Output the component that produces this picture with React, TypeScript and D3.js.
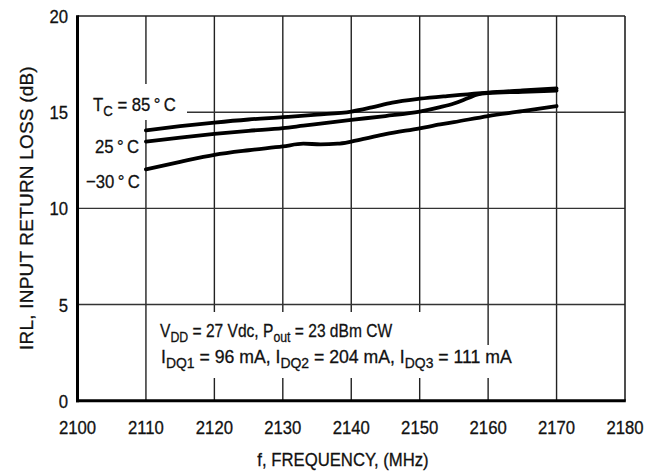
import React from "react";
import * as d3 from "d3";

const xTicks = [2100, 2110, 2120, 2130, 2140, 2150, 2160, 2170, 2180];
const yTicks = [0, 5, 10, 15, 20];

const freq85 = [2110, 2115, 2120, 2125, 2130, 2135, 2140, 2143, 2146, 2150, 2154, 2157, 2160, 2165, 2170];
const irl85 = [14.05, 14.27, 14.46, 14.62, 14.74, 14.87, 15.03, 15.25, 15.5, 15.7, 15.84, 15.93, 16.02, 16.13, 16.24];

const freq25 = [2110, 2115, 2120, 2125, 2130, 2133, 2140, 2145, 2150, 2153, 2155, 2157, 2158.5, 2160, 2165, 2170];
const irl25 = [13.47, 13.68, 13.87, 14.03, 14.17, 14.3, 14.6, 14.8, 15.03, 15.26, 15.45, 15.72, 15.92, 15.99, 16.06, 16.12];

const freqM30 = [2110, 2115, 2120, 2125, 2130, 2133, 2135.5, 2138, 2140, 2142, 2145, 2150, 2153, 2155, 2160, 2165, 2170];
const irlM30 = [12.03, 12.42, 12.78, 13.02, 13.22, 13.36, 13.33, 13.36, 13.47, 13.62, 13.86, 14.16, 14.36, 14.48, 14.8, 15.05, 15.32];

const series = [
  { f: freq85, v: irl85 },
  { f: freq25, v: irl25 },
  { f: freqM30, v: irlM30 },
];

const FONT = "'Liberation Sans', Arial, Helvetica, sans-serif";

function Txt(props: {
  x: number;
  y: number;
  anchor?: string;
  sx?: number;
  size?: number;
  rotate?: number;
  spacing?: number;
  children?: React.ReactNode;
}) {
  const { x, y, anchor = "start", sx = 0.88, size = 19, rotate = 0, spacing = 0, children } = props;
  return (
    <text
      transform={`translate(${x},${y}) rotate(${rotate}) scale(${sx},1)`}
      textAnchor={anchor}
      fontFamily={FONT}
      fontSize={size}
      letterSpacing={spacing}
      fill="#111"
      stroke="#111"
      strokeWidth={0.3}
    >
      {children}
    </text>
  );
}

const SUB = 15;
const DY = 4.5;

export default function App() {
  const L = 77.5, R = 625, T = 16, B = 400.7;
  const x = d3.scaleLinear().domain([2100, 2180]).range([L, R]);
  const y = d3.scaleLinear().domain([0, 20]).range([B, T]);
  const line = d3
    .line<[number, number]>()
    .x((d) => x(d[0]))
    .y((d) => y(d[1]))
    .curve(d3.curveMonotoneX);

  return (
    <svg
      width={662}
      height={472}
      style={{ position: "absolute", left: 0, top: 0, background: "#fff" }}
    >
      <rect x={0} y={0} width={662} height={472} fill="#fff" />
      {/* grid */}
      {xTicks.slice(1, -1).map((t) => (
        <line key={"gx" + t} x1={x(t)} x2={x(t)} y1={T} y2={B} stroke="#222" strokeWidth={1.4} />
      ))}
      {yTicks.slice(1, -1).map((t) => (
        <line key={"gy" + t} x1={L} x2={R} y1={y(t)} y2={y(t)} stroke="#333" strokeWidth={1.4} />
      ))}
      {/* label backgrounds */}
      <rect x={L + 1.5} y={84} width={187 - L - 1.5} height={36} fill="#fff" />
      <rect x={155} y={312} width={273} height={33} fill="#fff" />
      <rect x={155} y={345} width={360} height={33} fill="#fff" />
      {/* curves */}
      {series.map((s, i) => (
        <path
          key={i}
          d={line(s.f.map((f, j) => [f, s.v[j]]) as [number, number][]) || ""}
          fill="none"
          stroke="#000"
          strokeWidth={3.8}
          strokeLinecap="round"
        />
      ))}
      {/* frame */}
      <line x1={L} x2={R} y1={T} y2={T} stroke="#222" strokeWidth={1.6} />
      <line x1={R} x2={R} y1={T} y2={B} stroke="#222" strokeWidth={1.6} />
      <line x1={L} x2={L} y1={T - 0.8} y2={B + 1.5} stroke="#000" strokeWidth={3} />
      <line x1={L - 1.5} x2={R + 0.8} y1={B} y2={B} stroke="#000" strokeWidth={3} />
      {/* y tick labels */}
      {yTicks.map((t) => (
        <Txt key={"yl" + t} x={68} y={y(t) + 7} anchor="end">
          {t}
        </Txt>
      ))}
      {/* x tick labels */}
      {xTicks.map((t) => (
        <Txt key={"xl" + t} x={x(t)} y={434} anchor="middle">
          {t}
        </Txt>
      ))}
      {/* axis titles */}
      <Txt x={343} y={466} anchor="middle">
        f, FREQUENCY, (MHz)
      </Txt>
      <Txt x={33} y={208} anchor="middle" rotate={-90} sx={1} spacing={0.2}>
        IRL,  INPUT RETURN LOSS (dB)
      </Txt>
      {/* curve labels */}
      <Txt x={93} y={111}>
        T<tspan dy={DY} fontSize={SUB}>C</tspan>
        <tspan dy={-DY}> = 85{"\u2009"}°{"\u2009"}C</tspan>
      </Txt>
      <Txt x={95} y={153}>
        25{"\u2009"}°{"\u2009"}C
      </Txt>
      <Txt x={86} y={188}>
        −30{"\u2009"}°{"\u2009"}C
      </Txt>
      {/* conditions */}
      <Txt x={160} y={337} sx={0.82}>
        V<tspan dy={DY} fontSize={SUB}>DD</tspan>
        <tspan dy={-DY}> = 27 Vdc, P</tspan>
        <tspan dy={DY} fontSize={SUB}>out</tspan>
        <tspan dy={-DY}> = 23 dBm CW</tspan>
      </Txt>
      <Txt x={161} y={363} sx={0.93}>
        I<tspan dy={DY} fontSize={SUB}>DQ1</tspan>
        <tspan dy={-DY}> = 96 mA, I</tspan>
        <tspan dy={DY} fontSize={SUB}>DQ2</tspan>
        <tspan dy={-DY}> = 204 mA, I</tspan>
        <tspan dy={DY} fontSize={SUB}>DQ3</tspan>
        <tspan dy={-DY}> = 111 mA</tspan>
      </Txt>
    </svg>
  );
}
